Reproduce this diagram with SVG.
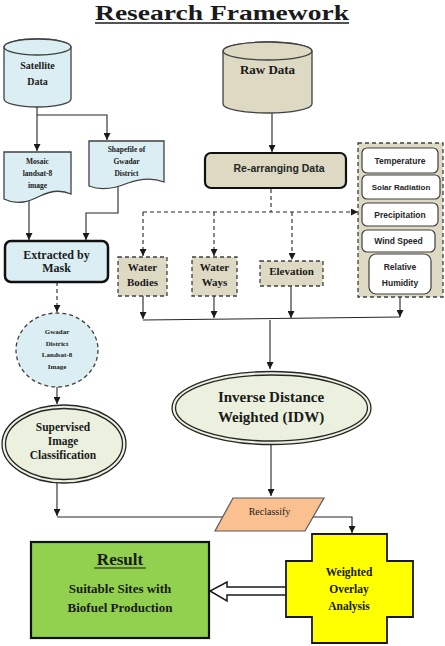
<svg xmlns="http://www.w3.org/2000/svg" width="445" height="646" viewBox="0 0 445 646">
<style>
.serif{font-family:"Liberation Serif","Times New Roman",serif;font-weight:bold;fill:#1a1a1a;text-anchor:middle}
.sans{font-family:"Liberation Sans",Arial,sans-serif;font-weight:bold;fill:#262626;text-anchor:middle}
.blue{fill:#dbeef4;stroke:#404040;stroke-width:1.3}
.tan{fill:#ddd9c3;stroke:#404040;stroke-width:1.3}
.dash{stroke-dasharray:4,3}
.pale{fill:#ebf1de;stroke:#262626;stroke-width:1.3}
.wbox{fill:#ffffff;stroke:#404040;stroke-width:1.2}
.ln{fill:none;stroke:#262626;stroke-width:1.1}
</style>
<defs>
<marker id="ah" viewBox="0 0 10 10" refX="10" refY="5" markerWidth="7" markerHeight="7" orient="auto" markerUnits="userSpaceOnUse">
<path d="M0,0 L10,5 L0,10 Z" fill="#1a1a1a"/>
</marker>
</defs>
<rect width="445" height="646" fill="#ffffff"/>

<g id="title">
<text class="serif" x="222" y="19.5" font-size="21" textLength="254" lengthAdjust="spacingAndGlyphs">Research Framework</text>
<line x1="95" y1="23" x2="349" y2="23" stroke="#1a1a1a" stroke-width="1.5"/>
</g>

<g id="connectors">
<path class="ln" d="M37,107 V151" marker-end="url(#ah)"/>
<path class="ln" d="M37,115 H107 V140" marker-end="url(#ah)"/>
<path class="ln" d="M29,200 V240" marker-end="url(#ah)"/>
<path class="ln" d="M118,186 V213 H86 V240" marker-end="url(#ah)"/>
<path class="ln dash" d="M57,282 V312" marker-end="url(#ah)"/>
<path class="ln" d="M57,387 V404" marker-end="url(#ah)"/>
<path class="ln" d="M57,483 V516" marker-end="url(#ah)"/>
<path class="ln" d="M57,517 H352 V533" marker-end="url(#ah)"/>
<path class="ln" d="M272,113 V152" marker-end="url(#ah)"/>
<path class="ln dash" d="M271,189 V212"/>
<path class="ln dash" d="M143,212 H358" marker-end="url(#ah)"/>
<path class="ln dash" d="M143,212 V256" marker-end="url(#ah)"/>
<path class="ln dash" d="M214,212 V256" marker-end="url(#ah)"/>
<path class="ln dash" d="M292,212 V260" marker-end="url(#ah)"/>
<path class="ln" d="M143,296 V319" marker-end="url(#ah)"/>
<path class="ln" d="M214,296 V318" marker-end="url(#ah)"/>
<path class="ln" d="M291,286 V318" marker-end="url(#ah)"/>
<path class="ln" d="M400,297 V317" marker-end="url(#ah)"/>
<path class="ln" d="M143,320 L400,317"/>
<path class="ln" d="M270,320 V369" marker-end="url(#ah)"/>
<path class="ln" d="M271,444 V496" marker-end="url(#ah)"/>
<path d="M286,587 H227 V582 L210,591 L227,601 V595 H286" fill="#ffffff" stroke="#1a1a1a" stroke-width="1.5"/>
</g>

<g id="satellite">
<path class="blue" d="M4,47 A33.5,8 0 0 1 71,47 V99 A33.5,8 0 0 1 4,99 Z"/>
<ellipse class="blue" cx="37.5" cy="47" rx="33.5" ry="8"/>
<text class="serif" x="37.5" y="68.5" font-size="10">Satellite</text>
<text class="serif" x="37.5" y="84.5" font-size="10">Data</text>
</g>

<g id="rawdata">
<path class="tan" d="M223,51 A44.5,9 0 0 1 312,51 V104 A44.5,9 0 0 1 223,104 Z"/>
<ellipse class="tan" cx="267.5" cy="51" rx="44.5" ry="9"/>
<text class="serif" x="267.5" y="74" font-size="13">Raw Data</text>
</g>

<g id="mosaic">
<path class="blue" d="M4,152 H71 V194 C62,190 52,190 40,196 C30,201 18,206 4,199 Z"/>
<text class="serif" x="37.5" y="164" font-size="7.5">Mosaic</text>
<text class="serif" x="37.5" y="176" font-size="7.5">landsat-8</text>
<text class="serif" x="37.5" y="188" font-size="7.5">image</text>
</g>

<g id="shapefile">
<path class="blue" d="M89,141 H164 V182 C154,178 142,178 128,183 C116,188 102,191 89,186 Z"/>
<text class="serif" x="126.5" y="152" font-size="7.5">Shapefile of</text>
<text class="serif" x="126.5" y="164" font-size="7.5">Gwadar</text>
<text class="serif" x="126.5" y="176" font-size="7.5">District</text>
</g>

<g id="mask">
<rect x="5" y="241" width="103" height="41" rx="6" fill="#dbeef4" stroke="#111111" stroke-width="2.5"/>
<text class="serif" x="56.5" y="259" font-size="12">Extracted by</text>
<text class="serif" x="56.5" y="272" font-size="12">Mask</text>
</g>

<g id="gwadar">
<ellipse cx="57" cy="350" rx="41" ry="37" fill="#dbeef4" stroke="#404040" stroke-width="1.3" stroke-dasharray="4,3"/>
<text class="serif" x="57" y="334" font-size="7">Gwadar</text>
<text class="serif" x="57" y="345.5" font-size="7">District</text>
<text class="serif" x="57" y="357" font-size="7">Landsat-8</text>
<text class="serif" x="57" y="368.5" font-size="7">Image</text>
</g>

<g id="supervised">
<ellipse class="pale" cx="64" cy="444" rx="62" ry="39"/>
<ellipse class="pale" cx="64" cy="444" rx="58.5" ry="35.5"/>
<text class="serif" x="63" y="431" font-size="11.5">Supervised</text>
<text class="serif" x="63" y="445" font-size="11.5">Image</text>
<text class="serif" x="63" y="459" font-size="11.5">Classification</text>
</g>

<g id="rearranging">
<rect x="205" y="153" width="141" height="35" rx="6" fill="#ddd9c3" stroke="#111111" stroke-width="2.2"/>
<text class="sans" x="279" y="172" font-size="10.5">Re-arranging Data</text>
</g>

<g id="waterbodies">
<rect class="tan dash" x="118" y="257" width="49" height="39"/>
<text class="serif" x="142.5" y="271" font-size="11">Water</text>
<text class="serif" x="142.5" y="286" font-size="11">Bodies</text>
</g>

<g id="waterways">
<rect class="tan dash" x="192" y="257" width="45" height="39"/>
<text class="serif" x="214.5" y="271" font-size="11">Water</text>
<text class="serif" x="214.5" y="286" font-size="11">Ways</text>
</g>

<g id="elevation">
<rect class="tan dash" x="260" y="261" width="63" height="25"/>
<text class="serif" x="291.5" y="275" font-size="11">Elevation</text>
</g>

<g id="climate">
<rect class="tan dash" x="358" y="143" width="85" height="154"/>
<rect class="wbox" x="362" y="148" width="76" height="25" rx="5"/>
<text class="sans" x="400" y="164" font-size="8.5">Temperature</text>
<rect class="wbox" x="362" y="175" width="78" height="24" rx="5"/>
<text class="sans" x="401" y="190" font-size="8">Solar Radiation</text>
<rect class="wbox" x="362" y="203" width="76" height="23" rx="5"/>
<text class="sans" x="400" y="217.5" font-size="8.5">Precipitation</text>
<rect class="wbox" x="362" y="230" width="73" height="22" rx="5"/>
<text class="sans" x="398.5" y="244" font-size="8.5">Wind Speed</text>
<rect class="wbox" x="369" y="254" width="62" height="40" rx="7"/>
<text class="sans" x="400" y="270" font-size="8.5">Relative</text>
<text class="sans" x="400" y="286" font-size="8.5">Humidity</text>
</g>

<g id="idw">
<ellipse class="pale" cx="271.5" cy="408" rx="99.5" ry="36.5"/>
<ellipse class="pale" cx="271.5" cy="408" rx="96" ry="33"/>
<text class="serif" x="271" y="402" font-size="15">Inverse Distance</text>
<text class="serif" x="271" y="422" font-size="15">Weighted (IDW)</text>
</g>

<g id="reclassify">
<path d="M233,498 H324 L305,531 H215 Z" fill="#fac090" stroke="#595959" stroke-width="1.2"/>
<text x="269.5" y="515" font-size="10" font-family="'Liberation Serif','Times New Roman',serif" fill="#1a1a1a" text-anchor="middle">Reclassify</text>
</g>

<g id="result">
<rect x="31" y="542" width="178" height="96" fill="#92d050" stroke="#111111" stroke-width="2.2"/>
<text class="serif" x="120" y="565" font-size="17">Result</text>
<line x1="94" y1="568" x2="146" y2="568" stroke="#1a1a1a" stroke-width="1.2"/>
<text class="serif" x="120" y="593" font-size="13">Suitable Sites with</text>
<text class="serif" x="120" y="612" font-size="13">Biofuel Production</text>
</g>

<g id="overlay">
<path d="M312,534 H387 V561 H413 V617 H387 V643 H312 V617 H286 V561 H312 Z" fill="#ffff00" stroke="#1a1a1a" stroke-width="1.8"/>
<text class="serif" x="349" y="576" font-size="11.5">Weighted</text>
<text class="serif" x="349" y="593" font-size="11.5">Overlay</text>
<text class="serif" x="349" y="610" font-size="11.5">Analysis</text>
</g>
</svg>
